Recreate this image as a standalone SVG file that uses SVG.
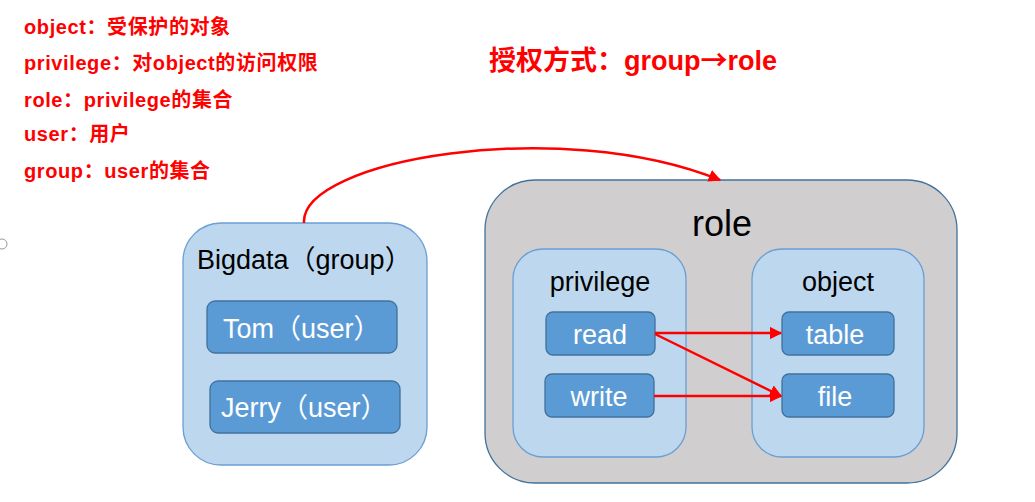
<svg xmlns="http://www.w3.org/2000/svg" width="1035" height="502" viewBox="0 0 1035 502">
<defs>
<style>
.note{font-family:"Liberation Sans","Noto Sans CJK SC",sans-serif;font-weight:bold;fill:#FF0000;font-size:20px;letter-spacing:0.6px}
.title{font-family:"Liberation Sans","Noto Sans CJK SC",sans-serif;font-weight:bold;fill:#FF0000;font-size:27px}
.cjk{font-family:"Noto Sans CJK SC",sans-serif}
.outer{fill:#BDD7EE;stroke:#6A9FD4;stroke-width:1.3}
.role{fill:#D0CECE;stroke:#41719C;stroke-width:1.3}
.item{fill:#5B9BD5;stroke:#41719C;stroke-width:1.3}
.lbl{font-family:"Liberation Sans","Noto Sans CJK SC",sans-serif;font-size:27px;fill:#000}
.wl{font-family:"Liberation Sans","Noto Sans CJK SC",sans-serif;font-size:27px;fill:#fff;text-anchor:middle}
.conn{fill:none;stroke:#FF0000;stroke-width:2.5}
</style>
<marker id="ah" viewBox="0 0 10 10" refX="9" refY="5" markerWidth="5" markerHeight="5" orient="auto" markerUnits="strokeWidth">
<path d="M0,0 L10,5 L0,10 z" fill="#FF0000"/>
</marker>
</defs>
<rect width="1035" height="502" fill="#fff"/>
<circle cx="2" cy="244" r="5" fill="none" stroke="#999" stroke-width="1"/>
<g id="notes">
<text class="note" x="24" y="34">object：受保护的对象</text>
<text class="note" x="24" y="70">privilege：对object的访问权限</text>
<text class="note" x="24" y="107">role：privilege的集合</text>
<text class="note" x="24" y="141">user：用户</text>
<text class="note" x="24" y="178">group：user的集合</text>
</g>
<text class="title" x="489" y="70">授权方式：group<tspan class="cjk">→</tspan>role</text>
<g id="group">
<rect class="outer" x="183" y="223" width="244" height="242" rx="38"/>
<text class="lbl" x="197" y="269">Bigdata（group）</text>
</g>
<g id="tom">
<rect class="item" x="207" y="301" width="190" height="52" rx="8"/>
<text class="wl" x="223" y="338" style="text-anchor:start">Tom（user）</text>
</g>
<g id="jerry">
<rect class="item" x="210" y="381" width="190" height="52" rx="8"/>
<text class="wl" x="221" y="417" style="text-anchor:start">Jerry（user）</text>
</g>
<g id="role">
<rect class="role" x="485" y="180" width="472" height="303" rx="50"/>
<text class="lbl" x="722" y="236" style="font-size:36px;text-anchor:middle">role</text>
</g>
<g id="privilege">
<rect class="outer" x="513" y="249" width="173" height="208" rx="30"/>
<text class="lbl" x="600" y="291" style="text-anchor:middle">privilege</text>
</g>
<g id="object">
<rect class="outer" x="752" y="249" width="172" height="208" rx="30"/>
<text class="lbl" x="838" y="291" style="text-anchor:middle">object</text>
</g>
<g id="read">
<rect class="item" x="546" y="312" width="109" height="43" rx="7"/>
<text class="wl" x="600" y="344">read</text>
</g>
<g id="write">
<rect class="item" x="545" y="374" width="109" height="43" rx="7"/>
<text class="wl" x="599" y="406">write</text>
</g>
<g id="table">
<rect class="item" x="782" y="312" width="112" height="43" rx="7"/>
<text class="wl" x="835" y="344">table</text>
</g>
<g id="file">
<rect class="item" x="782" y="374" width="112" height="43" rx="7"/>
<text class="wl" x="835" y="406">file</text>
</g>
<g id="connectors">
<path class="conn" d="M304,223 C300,160 560,115 720,180" marker-end="url(#ah)"/>
<line class="conn" x1="655" y1="333" x2="781" y2="333" marker-end="url(#ah)"/>
<line class="conn" x1="655" y1="334" x2="781" y2="396" marker-end="url(#ah)"/>
<line class="conn" x1="654" y1="396" x2="781" y2="396" marker-end="url(#ah)"/>
</g>
</svg>
